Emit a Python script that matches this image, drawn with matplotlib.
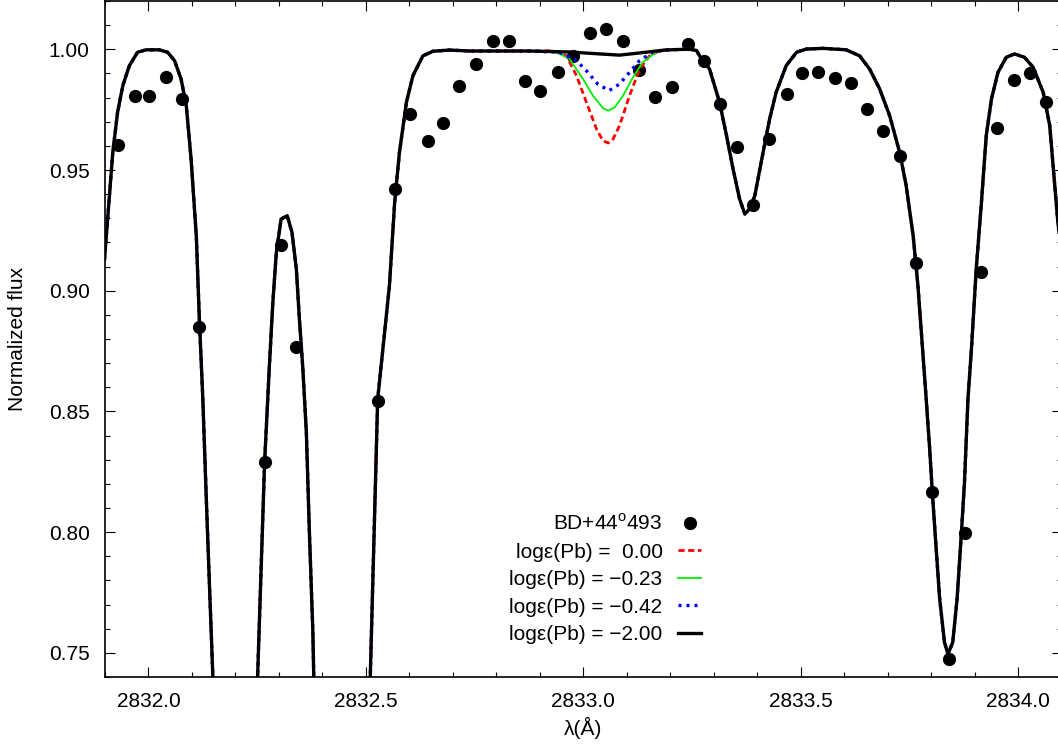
import matplotlib
matplotlib.use('Agg')
import matplotlib.pyplot as plt
import numpy as np

plt.rcParams['font.family'] = ['Liberation Sans', 'DejaVu Sans']
plt.rcParams['mathtext.fontset'] = 'custom'
plt.rcParams['mathtext.rm'] = 'Liberation Sans'
plt.rcParams['font.size'] = 15

# observed spectrum BD+44 493
obs_wave = [2831.931, 2831.968, 2832.002, 2832.041, 2832.078, 2832.117,
	2832.267, 2832.304, 2832.340, 2832.527, 2832.566, 2832.602, 2832.642,
	2832.678, 2832.715, 2832.752, 2832.791, 2832.828, 2832.865, 2832.901,
	2832.941, 2832.977, 2833.014, 2833.053, 2833.090, 2833.127, 2833.164,
	2833.203, 2833.240, 2833.277, 2833.313, 2833.352, 2833.389, 2833.426,
	2833.467, 2833.503, 2833.540, 2833.578, 2833.614, 2833.651, 2833.688,
	2833.727, 2833.764, 2833.801, 2833.840, 2833.877, 2833.913, 2833.950,
	2833.989, 2834.026, 2834.063]
obs_flux = [0.9604, 0.9807, 0.9807, 0.9885, 0.9794, 0.8850,
	0.8290, 0.9189, 0.8767, 0.8543, 0.9421, 0.9732, 0.9620,
	0.9695, 0.9848, 0.9939, 1.0034, 1.0034, 0.9869, 0.9827,
	0.9906, 0.9972, 1.0067, 1.0083, 1.0034, 0.9914, 0.9802,
	0.9844, 1.0022, 0.9952, 0.9773, 0.9595, 0.9355, 0.9628,
	0.9815, 0.9902, 0.9906, 0.9881, 0.9860, 0.9753, 0.9662,
	0.9558, 0.9115, 0.8167, 0.7475, 0.7996, 0.9077, 0.9674,
	0.9873, 0.9902, 0.9782]

# synthetic spectrum, logeps(Pb) = -2.00
syn_wave = [2831.899, 2831.918, 2831.929, 2831.941, 2831.956, 2831.975,
	2831.995, 2832.025, 2832.044, 2832.060, 2832.075, 2832.087, 2832.098,
	2832.110, 2832.117, 2832.125, 2832.133, 2832.140, 2832.148, 2832.200,
	2832.251, 2832.267, 2832.278, 2832.286, 2832.294, 2832.305, 2832.319,
	2832.330, 2832.340, 2832.347, 2832.355, 2832.363, 2832.370, 2832.378,
	2832.380, 2832.445, 2832.510, 2832.527, 2832.539, 2832.554, 2832.566,
	2832.577, 2832.593, 2832.608, 2832.631, 2832.654, 2832.692, 2832.738,
	2832.876, 2832.968, 2833.037, 2833.083, 2833.129, 2833.187, 2833.244,
	2833.260, 2833.267, 2833.290, 2833.313, 2833.329, 2833.344, 2833.359,
	2833.371, 2833.382, 2833.394, 2833.413, 2833.428, 2833.443, 2833.466,
	2833.490, 2833.512, 2833.551, 2833.604, 2833.635, 2833.658, 2833.681,
	2833.704, 2833.727, 2833.742, 2833.758, 2833.769, 2833.788, 2833.796,
	2833.802, 2833.811, 2833.819, 2833.830, 2833.838, 2833.849, 2833.859,
	2833.869, 2833.876, 2833.884, 2833.892, 2833.903, 2833.915, 2833.926,
	2833.938, 2833.953, 2833.972, 2833.991, 2834.014, 2834.034, 2834.057,
	2834.072, 2834.090, 2834.100]
syn_flux = [0.9131, 0.9573, 0.9739, 0.9849, 0.9932, 0.9988,
	0.9998, 0.9998, 0.9988, 0.9953, 0.9877, 0.9766, 0.9546,
	0.9228, 0.8883, 0.8552, 0.8138, 0.7793, 0.7405, 0.6000,
	0.7405, 0.8289, 0.8689, 0.8952, 0.9159, 0.9297, 0.9311,
	0.9242, 0.9090, 0.8883, 0.8676, 0.8413, 0.7999, 0.7585,
	0.7405, 0.6000, 0.7405, 0.8551, 0.8760, 0.9021, 0.9366,
	0.9573, 0.9780, 0.9891, 0.9973, 0.9992, 0.9997, 0.9993,
	0.9993, 0.9989, 0.9981, 0.9976, 0.9985, 0.9997, 1.0001,
	0.9995, 0.9973, 0.9918, 0.9780, 0.9642, 0.9504, 0.9380,
	0.9318, 0.9339, 0.9394, 0.9573, 0.9711, 0.9822, 0.9932,
	0.9988, 1.0001, 1.0004, 0.9998, 0.9973, 0.9918, 0.9836,
	0.9725, 0.9573, 0.9435, 0.9228, 0.9021, 0.8552, 0.8345,
	0.8167, 0.7930, 0.7723, 0.7544, 0.7495, 0.7544, 0.7723,
	0.7999, 0.8206, 0.8552, 0.8759, 0.9090, 0.9366, 0.9642,
	0.9794, 0.9905, 0.9967, 0.9981, 0.9967, 0.9925, 0.9822,
	0.9684, 0.9298, 0.9130]

# Pb line core for the other abundances
pb000_wave = [2832.929, 2832.961, 2832.984, 2833.007, 2833.030, 2833.045,
	2833.057, 2833.068, 2833.083, 2833.106, 2833.129, 2833.152, 2833.175]
pb000_flux = [0.9994, 0.9973, 0.9891, 0.9780, 0.9670, 0.9621,
	0.9612, 0.9628, 0.9684, 0.9808, 0.9918, 0.9973, 0.9994]
pb023_wave = [2832.938, 2832.968, 2832.999, 2833.022, 2833.045, 2833.057,
	2833.072, 2833.091, 2833.114, 2833.136, 2833.167]
pb023_flux = [0.9988, 0.9960, 0.9877, 0.9808, 0.9756, 0.9746,
	0.9760, 0.9808, 0.9884, 0.9946, 0.9988]
pb042_wave = [2832.945, 2832.984, 2833.007, 2833.033, 2833.059, 2833.083,
	2833.106, 2833.129, 2833.159]
pb042_flux = [0.9988, 0.9953, 0.9911, 0.9856, 0.9829, 0.9856,
	0.9905, 0.9953, 0.9988]

labels = ['BD+44$^{\\mathrm{o}}$493',
	'logε(Pb) =  0.00',
	'logε(Pb) = −0.23',
	'logε(Pb) = −0.42',
	'logε(Pb) = −2.00']

sw = np.array(syn_wave)
sf = np.array(syn_flux)

def with_core(cw, cf):
	cw = np.array(cw)
	left = sw < cw[0]
	right = sw > cw[-1]
	return (np.concatenate([sw[left], cw, sw[right]]),
		np.concatenate([sf[left], cf, sf[right]]))

fig = plt.figure(figsize=(10.58, 7.44), dpi=100)
ax = fig.add_axes([0.0992, 0.0900, 0.9045, 0.9086])

ax.plot(obs_wave, obs_flux, 'o', color='black', ms=8.5, zorder=2, label=labels[0])
x, y = with_core(pb000_wave, pb000_flux)
ax.plot(x, y, color='#ff0000', lw=2.0, dashes=(2.2, 1.3), zorder=3, label=labels[1])
x, y = with_core(pb023_wave, pb023_flux)
ax.plot(x, y, color='#00ee00', lw=1.3, zorder=4, label=labels[2])
x, y = with_core(pb042_wave, pb042_flux)
ax.plot(x, y, color='#0000ff', lw=2.4, dashes=(0.9, 1.5), zorder=5, label=labels[3])
ax.plot(syn_wave, syn_flux, color='black', lw=2.4, zorder=6, label=labels[4])

ax.set_xlim(2831.9, 2834.1)
ax.set_ylim(0.74, 1.02)
ax.set_xticks(np.arange(2832.0, 2834.01, 0.5))
ax.set_xticks(np.arange(2831.9, 2834.101, 0.1), minor=True)
ax.set_yticks(np.arange(0.75, 1.001, 0.05))
ax.set_yticks(np.arange(0.74, 1.0201, 0.01), minor=True)
ax.xaxis.set_major_formatter(matplotlib.ticker.FormatStrFormatter('%.1f'))
ax.yaxis.set_major_formatter(matplotlib.ticker.FormatStrFormatter('%.2f'))
ax.tick_params(which='both', direction='in', top=True, right=True, width=0.8)
ax.tick_params(which='major', length=7, pad=11)
ax.tick_params(which='minor', length=3.5)
for s in ax.spines.values():
	s.set_linewidth(1.2)

ax.set_xlabel('λ(Å)', labelpad=4)
ax.set_ylabel('Normalized flux', labelpad=16)

leg = ax.legend(loc='upper right', bbox_to_anchor=(0.623, 0.242), frameon=False,
	markerfirst=False, numpoints=1, handlelength=1.1, handletextpad=0.75,
	labelspacing=0.41, borderpad=0, borderaxespad=0)

fig.savefig('out.png', dpi=100)
plt.close()
